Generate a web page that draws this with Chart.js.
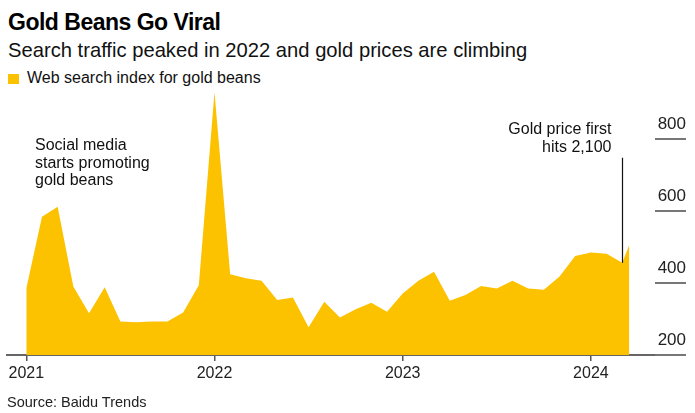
<!DOCTYPE html>
<html lang="en">
<head>
<meta charset="UTF-8">
<title>Gold Beans Go Viral</title>
<script src="https://cdn.jsdelivr.net/npm/chart.js"></script>
<style>
  body { margin: 0; width: 695px; height: 413px; background: #fff; position: relative; overflow: hidden;
         font-family: "Liberation Sans", Arial, sans-serif; color: #000; }
  #chart { position: absolute; left: 0; top: 0; }
  .title { position: absolute; left: 8px; top: 11px; font-size: 23px; line-height: 23px; font-weight: bold; letter-spacing: -0.5px; }
  .subtitle { position: absolute; left: 8px; top: 40px; font-size: 20.2px; line-height: 20px; color: #111; }
  .legend { position: absolute; left: 8px; top: 70px; font-size: 16px; line-height: 16px; color: #111; }
  .legend i { position: absolute; left: 0; top: 4px; width: 11px; height: 10px; background: #fcc200; }
  .legend span { margin-left: 19px; }
  .source { position: absolute; left: 7px; top: 395px; font-size: 14.5px; line-height: 14px; color: #222; }
</style>
</head>
<body>
<div class="title">Gold Beans Go Viral</div>
<div class="subtitle">Search traffic peaked in 2022 and gold prices are climbing</div>
<div class="legend"><i></i><span>Web search index for gold beans</span></div>
<canvas id="chart" width="695" height="413"></canvas>
<div class="source">Source: Baidu Trends</div>

<script>
    // months since Jan 2021 (last point is a partial month)
    const monthIndex = [
        0, 1, 2, 3, 4, 5, 6, 7, 8, 9, 10, 11,
        12, 13, 14, 15, 16, 17, 18, 19, 20, 21, 22, 23,
        24, 25, 26, 27, 28, 29, 30, 31, 32, 33, 34, 35,
        36, 37, 38, 38.45
    ];
    const searchIndex = [
        385, 584, 612, 390, 316, 388, 293, 291, 293, 293, 318, 394,
        930, 424, 413, 406, 353, 360, 277, 348, 304, 327, 345, 320,
        371, 406, 431, 351, 367, 392, 385, 406, 385, 381, 418, 475,
        485, 481, 456, 506
    ];
    const yearTicks = [0, 12, 24, 36];
    const yearLabels = ["2021", "2022", "2023", "2024"];
    const valueTicks = [200, 400, 600, 800];

    const gold = "#fcc200";
    const fontFamily = '"Liberation Sans", Arial, sans-serif';

    const overlay = {
        id: "overlay",
        afterDatasetsDraw(chart) {
            const { ctx, chartArea, scales: { x, y } } = chart;
            ctx.save();

            // value labels with short rules on the right
            ctx.font = "17px " + fontFamily;
            ctx.fillStyle = "#222";
            ctx.strokeStyle = "#777";
            ctx.lineWidth = 2;
            ctx.textAlign = "right";
            ctx.textBaseline = "alphabetic";
            valueTicks.forEach(v => {
                const py = y.getPixelForValue(v);
                ctx.beginPath();
                ctx.moveTo(chartArea.right - 30, py);
                ctx.lineTo(chartArea.right + 1, py);
                ctx.stroke();
                ctx.fillText(String(v), chartArea.right + 1, py - 10);
            });

            // gold price note
            ctx.font = "16px " + fontFamily;
            const gx = Math.round(x.getPixelForValue(38)) + 0.5;
            ctx.strokeStyle = "#111";
            ctx.lineWidth = 1.2;
            ctx.beginPath();
            ctx.moveTo(gx, y.getPixelForValue(748));
            ctx.lineTo(gx, y.getPixelForValue(searchIndex[38]));
            ctx.stroke();
            ctx.fillStyle = "#111";
            ctx.textBaseline = "middle";
            ctx.fillText("Gold price first", gx - 11, 130);
            ctx.fillText("hits 2,100", gx - 11, 148);

            // social media note
            ctx.textAlign = "left";
            ctx.fillText("Social media", 35, 146);
            ctx.fillText("starts promoting", 35, 163.5);
            ctx.fillText("gold beans", 35, 181);
            ctx.restore();
        }
    };

    new Chart(document.getElementById("chart"), {
        type: "line",
        data: {
            datasets: [{
                label: "Web search index for gold beans",
                data: monthIndex.map((m, i) => ({ x: m, y: searchIndex[i] })),
                backgroundColor: gold,
                borderWidth: 0,
                pointRadius: 0,
                tension: 0,
                fill: "start"
            }]
        },
        options: {
            responsive: false,
            animation: false,
            layout: { padding: { left: 7, right: 10, top: 85, bottom: 28 } },
            plugins: { legend: { display: false }, tooltip: { enabled: false } },
            scales: {
                x: {
                    type: "linear",
                    min: -1.23,
                    max: 42,
                    afterBuildTicks: s => { s.ticks = yearTicks.map(v => ({ value: v })); },
                    afterFit: s => { s.height = 30; },
                    grid: { drawOnChartArea: false, drawTicks: true, tickLength: 6, color: "#555", lineWidth: 1.5 },
                    border: { display: true, color: "#666", width: 2 },
                    ticks: {
                        callback: (v, i) => yearLabels[i],
                        color: "#222",
                        font: { size: 16, family: fontFamily },
                        padding: 3,
                        maxRotation: 0,
                        autoSkip: false
                    }
                },
                y: { display: false, min: 200, max: 950 }
            }
        },
        plugins: [overlay]
    });
</script>
</body>
</html>
